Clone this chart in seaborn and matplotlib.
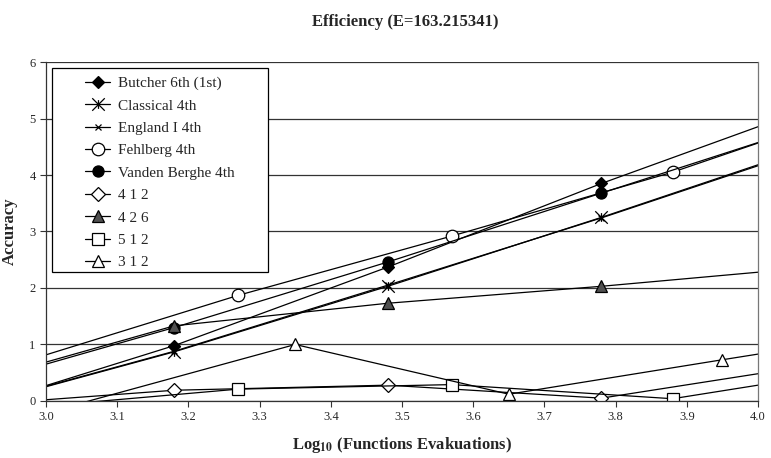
import numpy as np
import pandas as pd
import seaborn as sns
import matplotlib
matplotlib.use("Agg")
import matplotlib.pyplot as plt
from matplotlib.path import Path
from matplotlib.patches import Rectangle

# series values (first / last points lie outside the axis range)
x_a = [2.88, 3.18, 3.48, 3.78, 4.08]
x_b = [2.97, 3.27, 3.57, 3.88, 4.18]
x_c = [2.95, 3.35, 3.65, 3.95, 4.25]

butcher_y = [-0.20, 0.98, 2.37, 3.85, 5.22]
classical_y = [-0.16, 0.87, 2.03, 3.25, 4.52]
england_y = [-0.15, 0.88, 2.05, 3.24, 4.50]
fehlberg_y = [0.70, 1.87, 2.92, 4.05, 5.34]
vdb_y = [0.22, 1.30, 2.46, 3.68, 4.90]
s412_y = [-0.09, 0.19, 0.28, 0.05, 0.64]
s426_y = [0.26, 1.33, 1.73, 2.03, 2.37]
s512_y = [-0.12, 0.21, 0.29, 0.04, 0.64]
s312_y = [-0.38, 1.00, 0.12, 0.73, 1.33]

labels = ["Butcher 6th (1st)", "Classical 4th", "England I 4th", "Fehlberg 4th",
          "Vanden Berghe 4th", "4 1 2", "4 2 6", "5 1 2", "3 1 2"]
xs = [x_a, x_a, x_a, x_b, x_a, x_a, x_a, x_b, x_c]
ys = [butcher_y, classical_y, england_y, fehlberg_y, vdb_y, s412_y, s426_y, s512_y, s312_y]

x_ticks = [3.0, 3.1, 3.2, 3.3, 3.4, 3.5, 3.6, 3.7, 3.8, 3.9, 4.0]
y_ticks = [0, 1, 2, 3, 4, 5, 6]

# asterisk: an X with a short vertical stroke
star = Path([(-1, -1), (1, 1), (-1, 1), (1, -1), (0, -0.7), (0, 0.7)],
            [Path.MOVETO, Path.LINETO, Path.MOVETO, Path.LINETO, Path.MOVETO, Path.LINETO])

styles = [
    dict(marker="D", ms=6, mfc="black"),
    dict(marker=star, ms=9, mfc="none"),
    dict(marker="x", ms=5, mfc="none"),
    dict(marker="o", ms=9, mfc="white"),
    dict(marker="o", ms=8, mfc="black"),
    dict(marker="D", ms=7, mfc="white"),
    dict(marker="^", ms=9, mfc="#505050"),
    dict(marker="s", ms=9, mfc="white"),
    dict(marker="^", ms=9, mfc="white"),
]

sns.set_style("white")
plt.rcParams["font.family"] = ["Liberation Serif", "DejaVu Serif"]
plt.rcParams["mathtext.fontset"] = "stix"

fig = plt.figure(figsize=(7.71, 4.58), dpi=100)
ax = fig.add_axes([0.0597, 0.1245, 0.9235, 0.7401])

for lab, x, y, st in zip(labels, xs, ys, styles):
    df = pd.DataFrame({"x": x, "y": y})
    sns.lineplot(data=df, x="x", y="y", ax=ax, color="black", linewidth=0.9,
                 marker=st["marker"], markersize=st["ms"], markerfacecolor=st["mfc"],
                 markeredgecolor="black", markeredgewidth=0.9, label=lab, sort=False,
                 estimator=None)

ax.set_xlim(3.0, 4.0)
ax.set_ylim(0, 6)
ax.set_xticks(x_ticks)
ax.set_xticklabels([f"{t:.1f}" for t in x_ticks])
ax.set_yticks(y_ticks)
ax.grid(axis="y", color="#333333", linewidth=0.9)
ax.grid(axis="x", visible=False)
ax.set_axisbelow(True)
for s in ax.spines.values():
    s.set_color("#333333")
    s.set_linewidth(0.9)
ax.spines["top"].set_visible(False)
ax.spines["right"].set_color("#777777")
ax.tick_params(axis="both", which="both", direction="out", length=4, width=0.8,
               color="#333333", labelsize=9, bottom=True, left=True)

ax.set_xlabel(r"Log$_{\mathbf{10}}$ (Functions Evakuations)", fontsize=12,
              fontweight="bold", labelpad=8)
ax.set_ylabel("Accuracy", fontsize=12, fontweight="bold", labelpad=8)
fig.suptitle("Efficiency (E=163.215341)", fontsize=12, fontweight="bold", x=0.525, y=0.97)

# legend box: wide padding on the left like the original, so frame drawn separately
ax.add_patch(Rectangle((0.0084, 0.381), 0.304, 0.601, transform=ax.transAxes,
                       facecolor="white", edgecolor="black", linewidth=0.9, zorder=4))
leg = ax.legend(loc="upper left", bbox_to_anchor=(0.055, 0.958), fontsize=11,
                frameon=False, borderpad=0, labelspacing=0.57, handlelength=1.65,
                handletextpad=0.5, borderaxespad=0)
leg.set_zorder(5)

fig.savefig("out.png", dpi=100)
